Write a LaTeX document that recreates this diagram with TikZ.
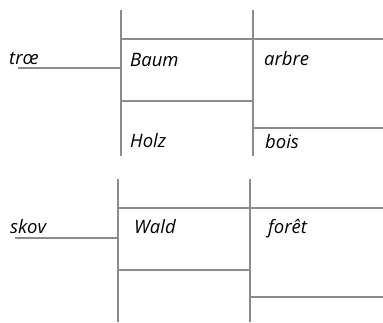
\documentclass[tikz,border=0pt]{standalone}
\usepackage{fontspec}
\setmainfont{Open Sans}
\begin{document}
\begin{tikzpicture}[x=1pt,y=-1pt,
  rule/.style={draw=black!45,line width=1.1pt},
  word/.style={anchor=base west,inner sep=0pt,font=\fontsize{18.5}{21}\selectfont\itshape}]
\useasboundingbox (0,0) rectangle (383,322);
% top block
\coordinate (v1t) at (121,10); \coordinate (v1b) at (121,156);
\coordinate (v2t) at (253,10); \coordinate (v2b) at (253,156);
\coordinate (l1) at (18,68); \coordinate (l1e) at (121,68);
\coordinate (h1a) at (121,39); \coordinate (h1b) at (383,39);
\coordinate (h2a) at (121,101); \coordinate (h2b) at (253,101);
\coordinate (h3a) at (253,128); \coordinate (h3b) at (383,128);
\draw[rule] (v1t) -- (v1b);
\draw[rule] (v2t) -- (v2b);
\draw[rule] (l1) -- (l1e);
\draw[rule] (h1a) -- (h1b);
\draw[rule] (h2a) -- (h2b);
\draw[rule] (h3a) -- (h3b);
\node[word] (trae) at (9,64) {trœ};
\node[word] (baum) at (130,66) {Baum};
\node[word] (arbre) at (264,65) {arbre};
\node[word] (holz) at (130,147) {Holz};
\node[word] (bois) at (265,148) {bois};
% bottom block
\coordinate (w1t) at (118,179); \coordinate (w1b) at (118,322);
\coordinate (w2t) at (250,179); \coordinate (w2b) at (250,322);
\coordinate (l2) at (15,238); \coordinate (l2e) at (118,238);
\coordinate (g1a) at (118,208); \coordinate (g1b) at (383,208);
\coordinate (g2a) at (118,270); \coordinate (g2b) at (250,270);
\coordinate (g3a) at (250,297); \coordinate (g3b) at (383,297);
\draw[rule] (w1t) -- (w1b);
\draw[rule] (w2t) -- (w2b);
\draw[rule] (l2) -- (l2e);
\draw[rule] (g1a) -- (g1b);
\draw[rule] (g2a) -- (g2b);
\draw[rule] (g3a) -- (g3b);
\node[word] (skov) at (10,233) {skov};
\node[word] (wald) at (134,233) {Wald};
\node[word] (foret) at (268,233) {forêt};
\end{tikzpicture}
\end{document}
